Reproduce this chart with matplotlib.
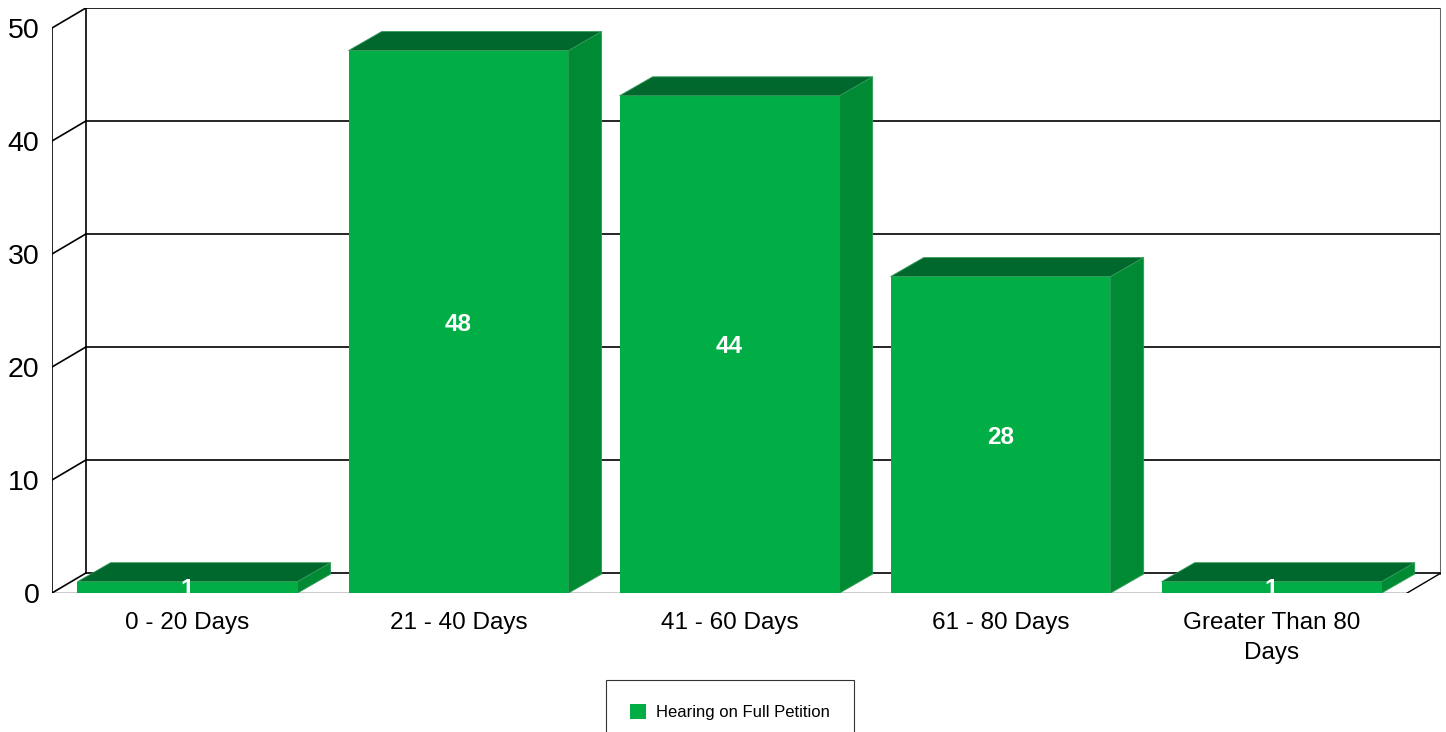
import matplotlib.pyplot as plt
from matplotlib.patches import Rectangle, Polygon, Patch

plt.rcParams['font.family'] = ['Liberation Sans', 'DejaVu Sans']

categories = ['0 - 20 Days', '21 - 40 Days', '41 - 60 Days', '61 - 80 Days', 'Greater Than 80\nDays']
values = [1, 48, 44, 28, 1]
series_name = 'Hearing on Full Petition'
yticks = [0, 10, 20, 30, 40, 50]

front_col = '#00AE45'
top_col = '#00682C'
side_col = '#008A34'

# 3d depth offsets (in data units)
wall_dx, wall_dy = 0.125, 1.77
bar_dx, bar_dy = 0.122, 1.68
bar_w = 0.812

fig = plt.figure(figsize=(14.46, 7.32), dpi=100)
ax = fig.add_axes([52 / 1446, (732 - 593) / 732, (1441 - 52) / 1446, (593 - 8) / 732])
n = len(categories)
x0, x1 = -0.5, n - 0.5
ymax = yticks[-1]
ax.set_xlim(x0, x1 + wall_dx)
ax.set_ylim(0, ymax + wall_dy)

# walls
lc = 'black'
for v in yticks:
    ax.plot([x0 + wall_dx, x1 + wall_dx], [v + wall_dy, v + wall_dy], color=lc, lw=1.2, zorder=1)
    ax.plot([x0, x0 + wall_dx], [v, v + wall_dy], color=lc, lw=1.2, zorder=1)
ax.plot([x0, x0], [0, ymax], color=lc, lw=1.2, zorder=1)
ax.plot([x0 + wall_dx, x0 + wall_dx], [wall_dy, ymax + wall_dy], color=lc, lw=1.2, zorder=1)
ax.plot([x1 + wall_dx, x1 + wall_dx], [wall_dy, ymax + wall_dy], color='#666666', lw=2.2, zorder=1)
ax.plot([x0, x1], [0, 0], color=lc, lw=1.0, zorder=1)
ax.plot([x1, x1 + wall_dx], [0, wall_dy], color=lc, lw=1.0, zorder=1)

# bars
for i, v in enumerate(values):
    l, r = i - bar_w / 2, i + bar_w / 2
    ax.add_patch(Rectangle((l, 0), bar_w, v, facecolor=front_col, edgecolor='none', zorder=3))
    ax.add_patch(Polygon([(l, v), (r, v), (r + bar_dx, v + bar_dy), (l + bar_dx, v + bar_dy)],
                         closed=True, facecolor=top_col, edgecolor='#2E9A55', lw=0.6, zorder=3))
    ax.add_patch(Polygon([(r, 0), (r + bar_dx, bar_dy), (r + bar_dx, v + bar_dy), (r, v)],
                         closed=True, facecolor=side_col, edgecolor='#2E9A55', lw=0.6, zorder=3))
    ax.text(i, v / 2, str(v), color='white', fontsize=17.5, fontweight='bold',
            ha='center', va='center_baseline', zorder=4)

ax.set_yticks(yticks)
ax.set_xticks(range(n))
ax.set_xticklabels(categories, linespacing=1.45)
ax.tick_params(axis='y', length=0, pad=9, labelsize=20.5)
ax.tick_params(axis='x', length=0, pad=14, labelsize=17.5)
for s in ax.spines.values():
    s.set_visible(False)

leg = fig.legend(handles=[Patch(facecolor=front_col, edgecolor='none', label=series_name)],
                 loc='upper center', bbox_to_anchor=(730 / 1446, 1 - 680 / 732),
                 borderaxespad=0, fontsize=12, frameon=True, fancybox=False, borderpad=1.45,
                 handlelength=0.95, handleheight=0.95, handletextpad=0.65)
leg.get_frame().set_edgecolor('black')
leg.get_frame().set_linewidth(0.8)

fig.savefig('out.png', dpi=100)
